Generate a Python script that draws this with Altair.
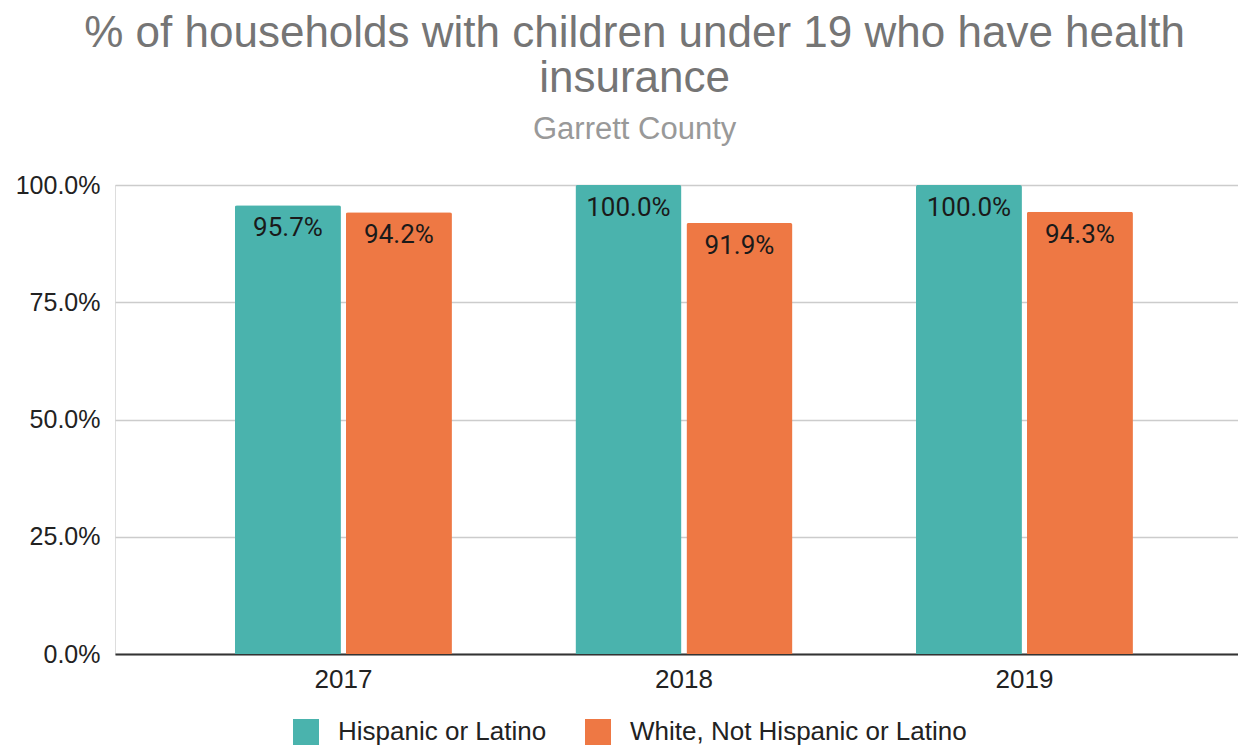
import altair as alt
import pandas as pd

years = ["2017", "2018", "2019"]
groups = ["Hispanic or Latino", "White, Not Hispanic or Latino"]
hispanic = [0.957, 1.0, 1.0]
white = [0.942, 0.919, 0.943]
colors = ["#4ab3ad", "#ee7844"]

rows = []
for i, y in enumerate(years):
    rows.append({"year": y, "group": groups[0], "value": hispanic[i]})
    rows.append({"year": y, "group": groups[1], "value": white[i]})
df = pd.DataFrame(rows)

FONT = "Liberation Sans"

base = alt.Chart(df).encode(
    x=alt.X("year:N", title=None,
            scale=alt.Scale(paddingInner=0.3627, paddingOuter=0.3304, align=0.533),
            axis=alt.Axis(labelAngle=0, labelFontSize=26, labelColor="#222222",
                          labelFont=FONT, ticks=False, domainColor="#333333",
                          domainWidth=2, labelPadding=12)),
    xOffset=alt.XOffset("group:N", sort=groups,
                        scale=alt.Scale(paddingInner=0.045, paddingOuter=0)),
    y=alt.Y("value:Q", title=None,
            scale=alt.Scale(domain=[0, 1]),
            axis=alt.Axis(format=".1%", values=[0, 0.25, 0.5, 0.75, 1.0],
                          labelFontSize=25, labelColor="#222222", labelFont=FONT,
                          domain=False, ticks=False, gridColor="#cccccc",
                          gridWidth=1.5, labelPadding=15)),
)

bars = base.mark_bar(cornerRadiusTopLeft=2, cornerRadiusTopRight=2).encode(
    color=alt.Color("group:N", sort=groups,
                    scale=alt.Scale(domain=groups, range=colors),
                    legend=alt.Legend(title=None, orient="none", direction="horizontal",
                                      legendX=178, legendY=534, padding=0,
                                      labelFontSize=26, labelFont=FONT, labelLimit=500,
                                      labelColor="#222222", symbolType="square",
                                      symbolSize=676, symbolStrokeWidth=0,
                                      symbolOpacity=1,
                                      columnPadding=38, labelOffset=19)),
)

labels = base.mark_text(baseline="alphabetic", dy=31, fontSize=26, font="Roboto",
                        color="#1a1a1a").encode(
    y=alt.Y("value:Q", stack=None),
    text=alt.Text("value:Q", format=".1%"),
)

chart = (bars + labels).properties(
    width=1123,
    height=469,
    title=alt.TitleParams(
        text=["% of households with children under 19 who have health", "insurance"],
        subtitle="Garrett County",
        fontSize=44, font=FONT, fontWeight="normal", color="#757575",
        lineHeight=45,
        subtitleFontSize=31, subtitleFont=FONT, subtitleColor="#999999",
        subtitlePadding=14, anchor="middle", frame="bounds", offset=28, dx=8,
    ),
).configure_view(stroke=None).configure(padding={"left": 7, "top": 4, "right": 0, "bottom": 0})

chart.save("out.html", embed_options={"renderer": "svg", "actions": False})
